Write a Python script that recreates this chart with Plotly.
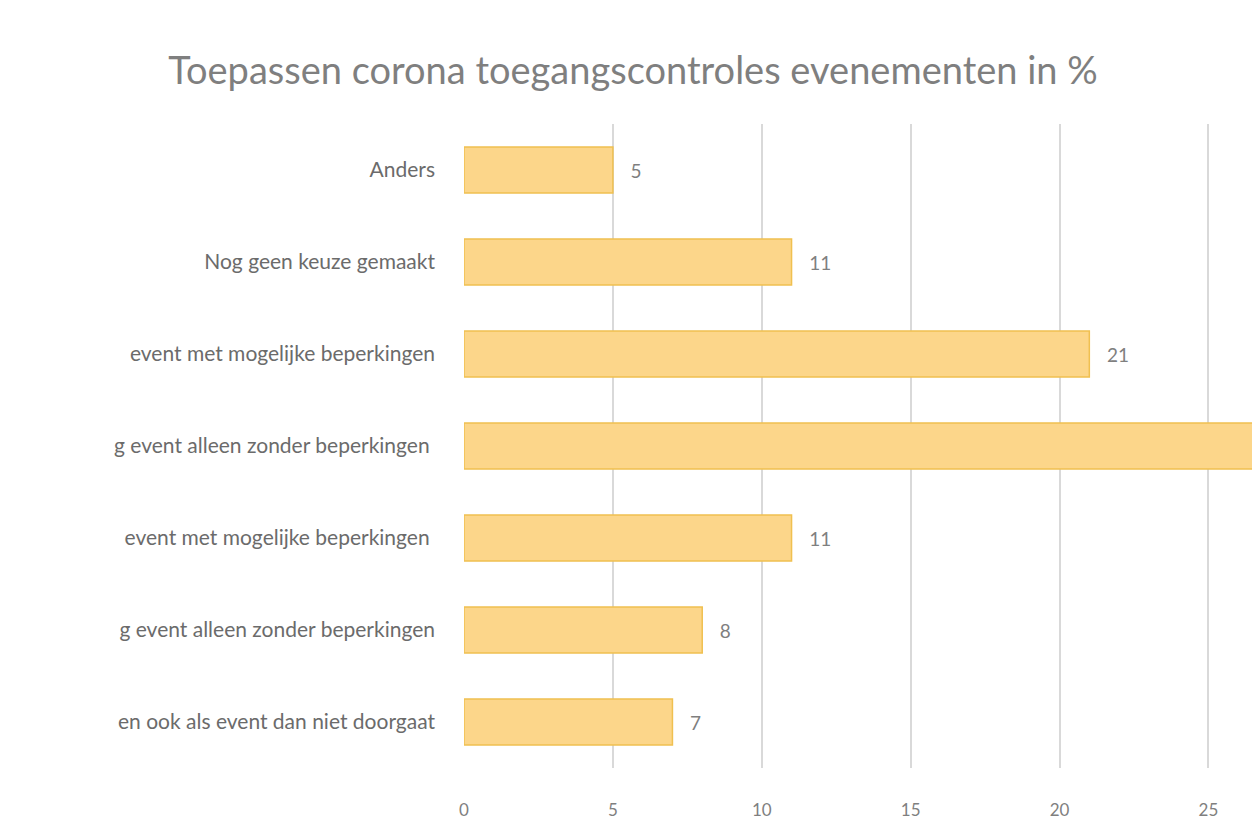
import plotly.graph_objects as go

categories = [
    "en ook als event dan niet doorgaat",
    "g event alleen zonder beperkingen",
    "event met mogelijke beperkingen ",
    "g event alleen zonder beperkingen ",
    "event met mogelijke beperkingen",
    "Nog geen keuze gemaakt",
    "Anders",
]
values = [7, 8, 11, 32, 21, 11, 5]
labels = ["   7", "   8", "   11", "", "   21", "   11", "   5"]
x_ticks = [0, 5, 10, 15, 20, 25]

grey = "#7f7f7f"
fig = go.Figure(go.Bar(
    y=categories, x=values, orientation="h",
    marker=dict(color="#fcd68a", line=dict(color="#f0c050", width=1.5)),
    text=labels, textposition="outside", cliponaxis=True,
    textfont=dict(color=grey, size=19, family="Lato"),
))
fig.update_layout(
    width=1260, height=840, plot_bgcolor="white", paper_bgcolor="white",
    margin=dict(l=456, r=0, t=116, b=80), bargap=0.5, showlegend=False,
    font=dict(family="Lato", color=grey),
    title=dict(text="Toepassen corona toegangscontroles evenementen in %",
               x=0.496, xanchor="center", y=0.925, yanchor="middle",
               font=dict(size=38, color=grey, family="Lato")),
)
fig.update_xaxes(range=[0, 27.0], tickvals=x_ticks, showgrid=True, gridcolor="#d9d9d9",
                 gridwidth=1.5, zeroline=False, ticklabelstandoff=30,
                 tickfont=dict(size=17, color=grey))
fig.update_yaxes(showgrid=False, ticklabelstandoff=28, automargin=False,
                 tickfont=dict(size=21, color="#6b6b6b"))
fig.write_html("out.html")
